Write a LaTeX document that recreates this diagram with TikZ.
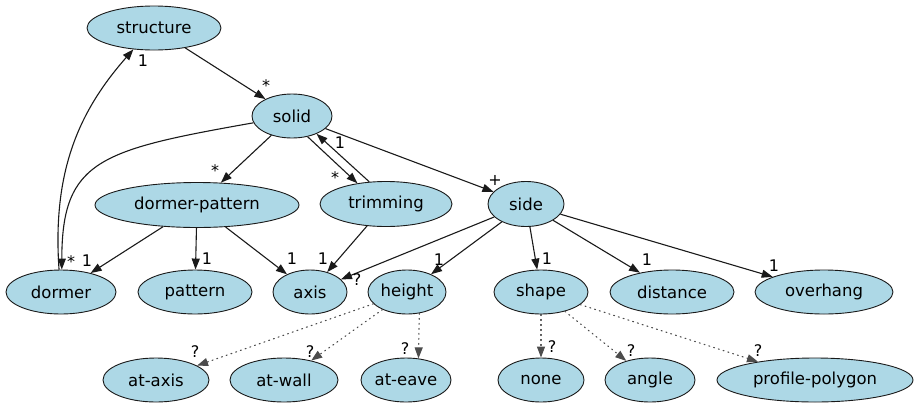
\documentclass[tikz,border=0pt]{standalone}
\usepackage{fontspec}
\setmainfont{DejaVu Sans}
\usetikzlibrary{shapes.geometric,arrows.meta}
\definecolor{nodefill}{HTML}{ADD8E6}
\definecolor{edgecol}{HTML}{1A1A1A}
\tikzset{
  entity/.style={ellipse, draw=edgecol, line width=0.9pt, fill=nodefill, inner sep=0pt,
    font=\fontsize{16.5}{19}\selectfont},
  link/.style={draw=edgecol, line width=1.1pt, -{Triangle[length=11pt,width=8pt]}},
  optlink/.style={link, draw=black!70, dash pattern=on 1pt off 4pt, line cap=round},
  mult/.style={font=\fontsize{16}{18}\selectfont, inner sep=0pt}
}
\newcommand{\ent}[5]{\node[entity, minimum width=#3pt, minimum height=#4pt] (#1) at #2 {#5};}
\begin{document}
\begin{tikzpicture}[x=1pt, y=-1pt]
\useasboundingbox (0,0) rectangle (915,402);
% entities
\ent{structure}{(154,28)}{134}{44}{structure}
\ent{solid}{(292,116)}{80}{44}{solid}
\ent{dpattern}{(197,205)}{204}{45}{dormer-pattern}
\ent{trimming}{(386,204)}{132}{45}{trimming}
\ent{side}{(526,204)}{76}{45}{side}
\ent{dormer}{(61,292)}{110}{44}{dormer}
\ent{pattern}{(195,292)}{114}{44}{pattern}
\ent{axis}{(310,292)}{74}{44}{axis}
\ent{height}{(407,292)}{78}{44}{height}
\ent{shape}{(541,292)}{94}{44}{shape}
\ent{distance}{(672,292)}{124}{44}{distance}
\ent{overhang}{(824,292)}{138}{44}{overhang}
\ent{ataxis}{(156,380)}{106}{44}{at-axis}
\ent{atwall}{(284,380)}{108}{44}{at-wall}
\ent{ateave}{(406,380)}{90}{44}{at-eave}
\ent{none}{(541,380)}{86}{44}{none}
\ent{angle}{(650,380)}{90}{44}{angle}
\ent{profile}{(815,380)}{196}{44}{profile-polygon}

% composition links
\draw[link] (structure) -- (solid);
\draw[link] (dormer.95) .. controls (52,170) and (80,110) .. (structure.-134);
\draw[link] (solid.190) .. controls (100,150) and (62,160) .. (dormer.88);
\draw[link] (solid) -- (dpattern);
\draw[link] (solid.-53) -- (trimming.144);
\draw[link] (trimming.127) -- (solid.-36);
\draw[link] (solid) -- (side);
\draw[link] (dpattern) -- (dormer);
\draw[link] (dpattern) -- (pattern);
\draw[link] (dpattern) -- (axis);
\draw[link] (trimming) -- (axis);
\draw[link] (side) -- (axis);
\draw[link] (side) -- (height);
\draw[link] (side) -- (shape);
\draw[link] (side) -- (distance);
\draw[link] (side) -- (overhang);
% optional links
\draw[optlink] (height) -- (ataxis);
\draw[optlink] (height) -- (atwall);
\draw[optlink] (height.-60) -- (ateave.60);
\draw[optlink] (shape) -- (none);
\draw[optlink] (shape) -- (angle);
\draw[optlink] (shape) -- (profile);

% multiplicities
\node[mult] (m1) at (143,61) {1};
\node[mult] (m2) at (266,86) {*};
\node[mult] (m3) at (215,171) {*};
\node[mult] (m4) at (335,178) {*};
\node[mult] (m5) at (340,143) {1};
\node[mult] (m6) at (495,180) {+};
\node[mult] (m7) at (71,262) {*};
\node[mult] (m8) at (87,261) {1};
\node[mult] (m9) at (207,259) {1};
\node[mult] (m10) at (292,259) {1};
\node[mult] (m11) at (323,259) {1};
\node[mult] (m12) at (357,280) {?};
\node[mult] (m13) at (439,260) {1};
\node[mult] (m14) at (547,259) {1};
\node[mult] (m15) at (647,260) {1};
\node[mult] (m16) at (774,266) {1};
\node[mult] (m17) at (195,352) {?};
\node[mult] (m18) at (310,352) {?};
\node[mult] (m19) at (405,349) {?};
\node[mult] (m20) at (552,347) {?};
\node[mult] (m21) at (631,351) {?};
\node[mult] (m22) at (758,351) {?};
\end{tikzpicture}
\end{document}
